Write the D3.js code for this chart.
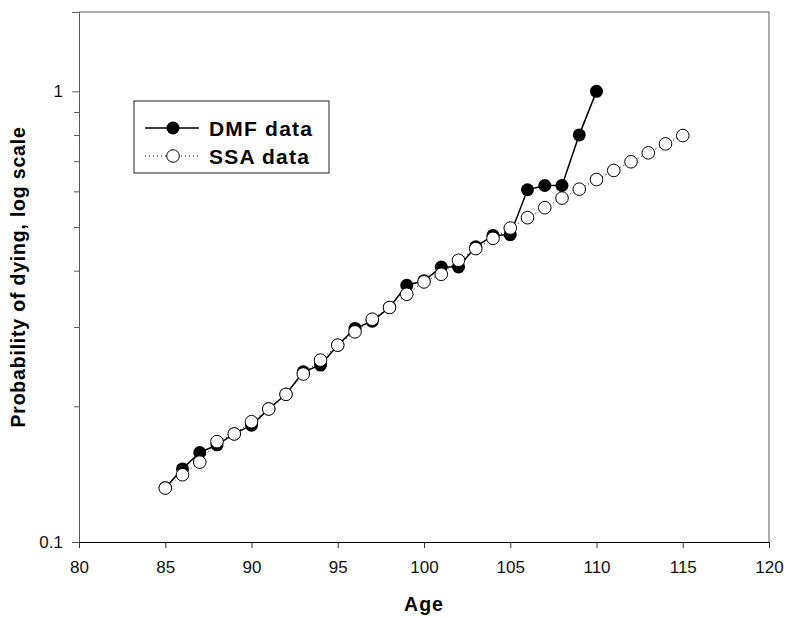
<!DOCTYPE html>
<html>
<head>
<meta charset="utf-8">
<script src="https://cdn.jsdelivr.net/npm/d3@7"></script>
<style>
  body { margin: 0; background: #fff; }
  svg { font-family: "Liberation Sans", Arial, sans-serif; }
</style>
</head>
<body>
<div id="chart"></div>
<script>
// ages and probabilities
const dmfAges = [85, 86, 87, 88, 89, 90, 91, 92, 93, 94, 95, 96, 97, 98, 99, 100, 101, 102, 103, 104, 105, 106, 107, 108, 109, 110];
const dmfProb = [0.132, 0.1453, 0.158, 0.1643, 0.1737, 0.1816, 0.1973, 0.2127, 0.2386, 0.2469, 0.2734, 0.2978, 0.309, 0.3314, 0.3713, 0.38, 0.4076, 0.4076, 0.452, 0.479, 0.4808, 0.6048, 0.6182, 0.6182, 0.8006, 1.0];
const ssaAges = [85, 86, 87, 88, 89, 90, 91, 92, 93, 94, 95, 96, 97, 98, 99, 100, 101, 102, 103, 104, 105, 106, 107, 108, 109, 110, 111, 112, 113, 114, 115];
const ssaProb = [0.1317, 0.141, 0.1504, 0.167, 0.1737, 0.1849, 0.1973, 0.2127, 0.2359, 0.2533, 0.2734, 0.2926, 0.3122, 0.3314, 0.3546, 0.3777, 0.3927, 0.4218, 0.4477, 0.4719, 0.4973, 0.5244, 0.5518, 0.5797, 0.6067, 0.6373, 0.6675, 0.6978, 0.7305, 0.7647, 0.7979];
const xTicks = [80, 85, 90, 95, 100, 105, 110, 115, 120];
const yMajor = [0.1, 1];
const yMinor = [0.2, 0.3, 0.4, 0.5, 0.6, 0.7, 0.8, 0.9];

var margin = { top: 12, right: 19, bottom: 76, left: 79 },
    width = 788 - margin.left - margin.right,
    height = 618 - margin.top - margin.bottom;

const svg = d3.select('#chart').append('svg')
    .attr('width', 788)
    .attr('height', 618);
const g = svg.append('g').attr('transform', `translate(${margin.left},${margin.top})`);

const x = d3.scaleLinear().domain([80, 120]).range([0, width]);
const y = d3.scaleLog().domain([0.1, 1.5]).range([height, 0]);

const frame = '#5a5a5a';

// frame: top, left, right in grey
g.append('line').attr('x1', 0).attr('x2', width).attr('y1', 0).attr('y2', 0).attr('stroke', frame);
g.append('line').attr('x1', width).attr('x2', width).attr('y1', 0).attr('y2', height).attr('stroke', frame);

// y axis
const yAxis = g.append('g')
    .call(d3.axisLeft(y).tickValues(yMajor).tickFormat(d3.format('')).tickSize(7).tickPadding(9));
yAxis.select('.domain').attr('stroke', frame);
yAxis.selectAll('.tick line').attr('stroke', frame);
yAxis.selectAll('text').attr('font-size', '17px').attr('fill', '#111');
g.append('g')
    .call(d3.axisLeft(y).tickValues(yMinor).tickFormat('').tickSize(5))
    .call(s => s.select('.domain').remove())
    .selectAll('.tick line').attr('stroke', frame);

// x axis
const xAxis = g.append('g')
    .attr('transform', `translate(0,${height})`)
    .call(d3.axisBottom(x).tickValues(xTicks).tickSize(6).tickPadding(13).tickSizeOuter(0));
xAxis.select('.domain').attr('stroke', '#000');
xAxis.selectAll('.tick line').attr('stroke', '#333');
xAxis.selectAll('text').attr('font-size', '17px').attr('fill', '#111');

// titles
svg.append('text')
    .attr('x', margin.left + width / 2).attr('y', 611)
    .attr('text-anchor', 'middle')
    .attr('font-size', '19.5px').attr('font-weight', 'bold').attr('letter-spacing', '1px')
    .text('Age');
svg.append('text')
    .attr('transform', `translate(25,${margin.top + height / 2}) rotate(-90)`)
    .attr('text-anchor', 'middle')
    .attr('font-size', '19.5px').attr('font-weight', 'bold').attr('letter-spacing', '0.8px')
    .text('Probability of dying, log scale');

const dmf = dmfAges.map((a, i) => ({ age: a, p: dmfProb[i] }));
const ssa = ssaAges.map((a, i) => ({ age: a, p: ssaProb[i] }));
const line = d3.line().x(d => x(d.age)).y(d => y(d.p));

g.append('path').datum(ssa).attr('d', line)
    .attr('fill', 'none').attr('stroke', '#000').attr('stroke-width', 1).attr('stroke-dasharray', '1,3');
g.append('path').datum(dmf).attr('d', line)
    .attr('fill', 'none').attr('stroke', '#000').attr('stroke-width', 1.5);

g.selectAll('.dmf').data(dmf).enter().append('circle')
    .attr('class', 'dmf')
    .attr('cx', d => x(d.age)).attr('cy', d => y(d.p))
    .attr('r', 6.5).attr('fill', '#000');
g.selectAll('.ssa').data(ssa).enter().append('circle')
    .attr('class', 'ssa')
    .attr('cx', d => x(d.age)).attr('cy', d => y(d.p))
    .attr('r', 6.3).attr('fill', '#fff').attr('stroke', '#000').attr('stroke-width', 1);

// legend
const legend = svg.append('g').attr('transform', 'translate(134,101)');
legend.append('rect').attr('width', 195).attr('height', 72)
    .attr('fill', '#fff').attr('stroke', '#222').attr('stroke-width', 1);
legend.append('line').attr('x1', 11).attr('x2', 65).attr('y1', 27).attr('y2', 27)
    .attr('stroke', '#000').attr('stroke-width', 1.5);
legend.append('circle').attr('cx', 39).attr('cy', 27).attr('r', 6.5).attr('fill', '#000');
legend.append('line').attr('x1', 11).attr('x2', 65).attr('y1', 55).attr('y2', 55)
    .attr('stroke', '#000').attr('stroke-width', 1).attr('stroke-dasharray', '1,3');
legend.append('circle').attr('cx', 39).attr('cy', 55).attr('r', 6.3)
    .attr('fill', '#fff').attr('stroke', '#000');
legend.append('text').attr('x', 75).attr('y', 34.5)
    .attr('font-size', '21px').attr('font-weight', 'bold').attr('letter-spacing', '1.2px')
    .text('DMF data');
legend.append('text').attr('x', 75).attr('y', 62.5)
    .attr('font-size', '21px').attr('font-weight', 'bold').attr('letter-spacing', '1.2px')
    .text('SSA data');
</script>
</body>
</html>
